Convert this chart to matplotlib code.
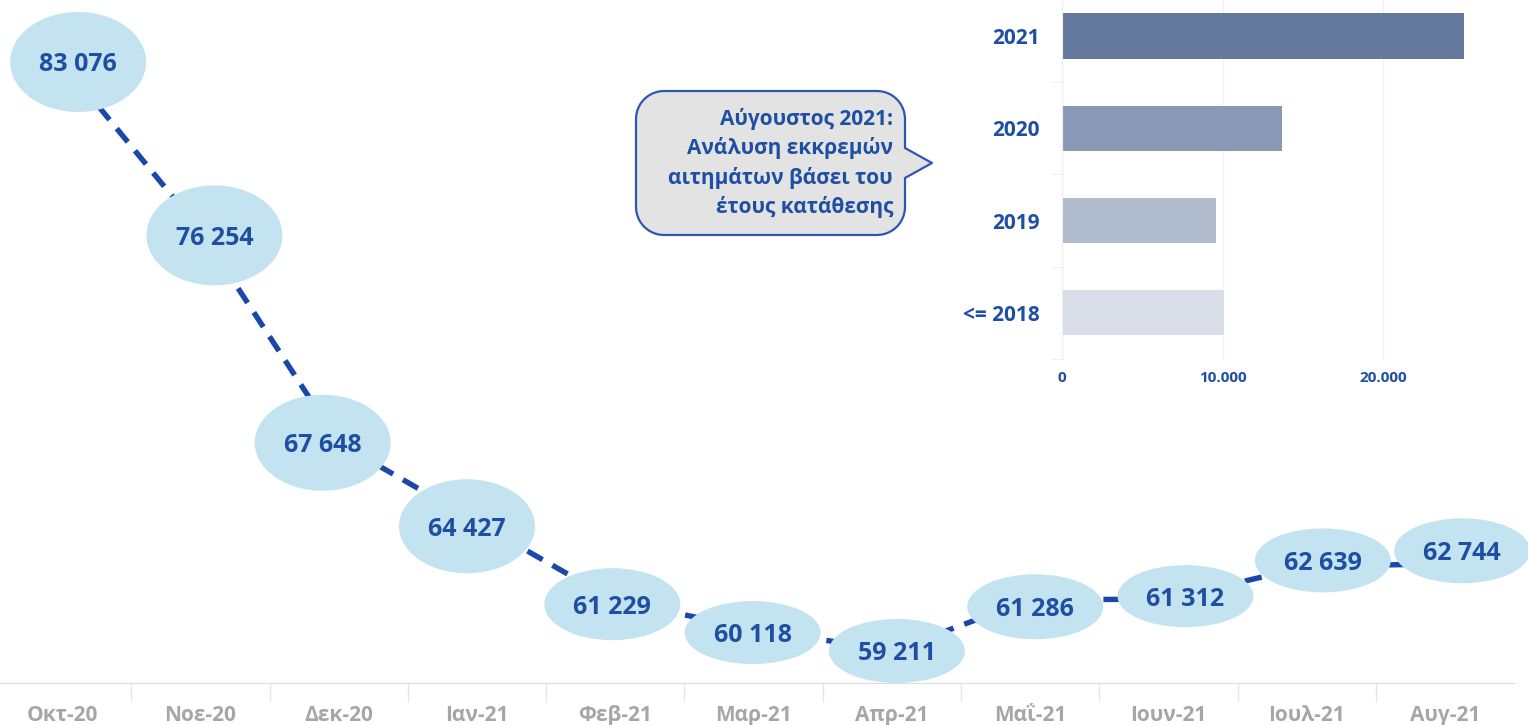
import numpy as np
import matplotlib

matplotlib.use("Agg")
import matplotlib.pyplot as plt
from matplotlib.patches import Ellipse, Polygon

plt.rcParams["font.family"] = ["Open Sans", "DejaVu Sans"]

# data -------------------------------------------------------------------
months = ["Οκτ-20", "Νοε-20", "Δεκ-20", "Ιαν-21", "Φεβ-21", "Μαρ-21",
          "Απρ-21", "Μαΐ-21", "Ιουν-21", "Ιουλ-21", "Αυγ-21"]
pending = [83076, 76254, 67648, 64427, 61229, 60118,
           59211, 61286, 61312, 62639, 62744]

years = ["<= 2018", "2019", "2020", "2021"]
by_year = [10090, 9600, 13700, 25050]

callout = "Αύγουστος 2021:\nΑνάλυση εκκρεμών\nαιτημάτων βάσει του\nέτους κατάθεσης"

# style ------------------------------------------------------------------
BLUE = "#1F4FA3"
LINE = "#1A47AA"
BUBBLE = "#C3E3F1"
bar_colors = ["#D9DEE8", "#B0BCCE", "#8A9AB6", "#65789E"]
# bubble size / offset from the point, in pixels
bub_w = 136
bub_h = [100, 100, 96, 94, 72, 63, 64, 65, 62, 64, 65]
bub_dx = [16, 14, -16, -10, -3, -1, 5, 5, 17, 16, 17]
bub_dy = [0, -5, 0, -4, -3, -4, 0, -7, 3, 6, 13]

W, H = 1528, 725
fig = plt.figure(figsize=(W / 100, H / 100), dpi=100)

# main line chart --------------------------------------------------------
ax = fig.add_axes([0, 42 / H, 1514 / W, 683 / H])
x = np.arange(len(months))
ax.plot(x, pending, color=LINE, lw=3.9, ls=(0, (3.2, 2.1)), zorder=2,
        solid_capstyle="butt")

for s in ["top", "right", "left"]:
    ax.spines[s].set_visible(False)
ax.spines["bottom"].set_color("#DDDDDD")
ax.set_yticks([])
ax.set_xticks(x)
ax.set_xticklabels(months, fontsize=15, fontweight="bold", color="#A6A6A6")
ax.tick_params(axis="x", which="major", length=0, pad=16)
ax.set_xticks(np.arange(-0.5, 11, 1), minor=True)
ax.tick_params(axis="x", which="minor", length=14, color="#E6E6E6", width=1)
ax.set_xlim(-0.449, 10.498)
ax.set_ylim(57914, 85588)

px_x = 1514 / (10.498 + 0.449)
px_y = 683 / (85588 - 57914)
for i, v in enumerate(pending):
    cx = i + bub_dx[i] / px_x
    cy = v + bub_dy[i] / px_y
    ax.add_patch(Ellipse((cx, cy), bub_w / px_x, bub_h[i] / px_y,
                         facecolor=BUBBLE, edgecolor="none", zorder=3,
                         clip_on=False))
    ax.text(cx, cy - 3 / px_y, f"{v:,}".replace(",", " "), ha="center",
            va="center", fontsize=18, fontweight="bold", color=BLUE, zorder=4)

# inset bar chart --------------------------------------------------------
ib = fig.add_axes([1062 / W, (H - 359) / H, (W - 1062) / W, 359 / H])
yy = np.arange(len(years))
ib.barh(yy, by_year, height=0.49, color=bar_colors, zorder=2)
ib.set_yticks(yy)
ib.set_yticklabels(years, fontsize=15, fontweight="bold", color=BLUE)
ib.tick_params(axis="y", which="major", length=0, pad=16)
ib.set_yticks(np.arange(-0.5, 3, 1), minor=True)
ib.tick_params(axis="y", which="minor", length=8, color="#EEEEEE")
ib.set_xticks([0, 10000, 20000])
ib.set_xticklabels([f"{t:,}".replace(",", ".") for t in [0, 10000, 20000]],
                   fontsize=11, fontweight="bold", color=BLUE)
ib.tick_params(axis="x", length=0, pad=9)
ib.set_xlim(0, 29030)
ib.set_ylim(-0.5, 3.39)
ib.grid(axis="x", color="#F2F2F2", lw=1, zorder=0)
for s in ["top", "right", "bottom"]:
    ib.spines[s].set_visible(False)
ib.spines["left"].set_color("#EEEEEE")
ib.set_facecolor("none")

# speech-bubble callout --------------------------------------------------
ov = fig.add_axes([0, 0, 1, 1], zorder=5)
ov.set_xlim(0, W)
ov.set_ylim(H, 0)
ov.axis("off")

x0, x1, y0, y1, r = 636, 905, 91, 235, 28
t = np.linspace(0, np.pi / 2, 12)
pts = []
pts += list(zip(x1 - r + r * np.sin(t), y0 + r - r * np.cos(t)))        # top-right
pts += [(x1, 148), (932, 163), (x1, 178)]                                 # pointer
pts += list(zip(x1 - r + r * np.cos(t), y1 - r + r * np.sin(t)))        # bottom-right
pts += list(zip(x0 + r - r * np.sin(t), y1 - r + r * np.cos(t)))        # bottom-left
pts += list(zip(x0 + r - r * np.cos(t), y0 + r - r * np.sin(t)))        # top-left
ov.add_patch(Polygon(pts, closed=True, facecolor="#E3E3E3",
                     edgecolor="#2F55B5", lw=1.6, joinstyle="round"))
ov.text(893, 163, callout, ha="right", va="center", multialignment="right",
        fontsize=15, fontweight="bold", color=BLUE, linespacing=1.42)

fig.savefig("out.png", dpi=100)
